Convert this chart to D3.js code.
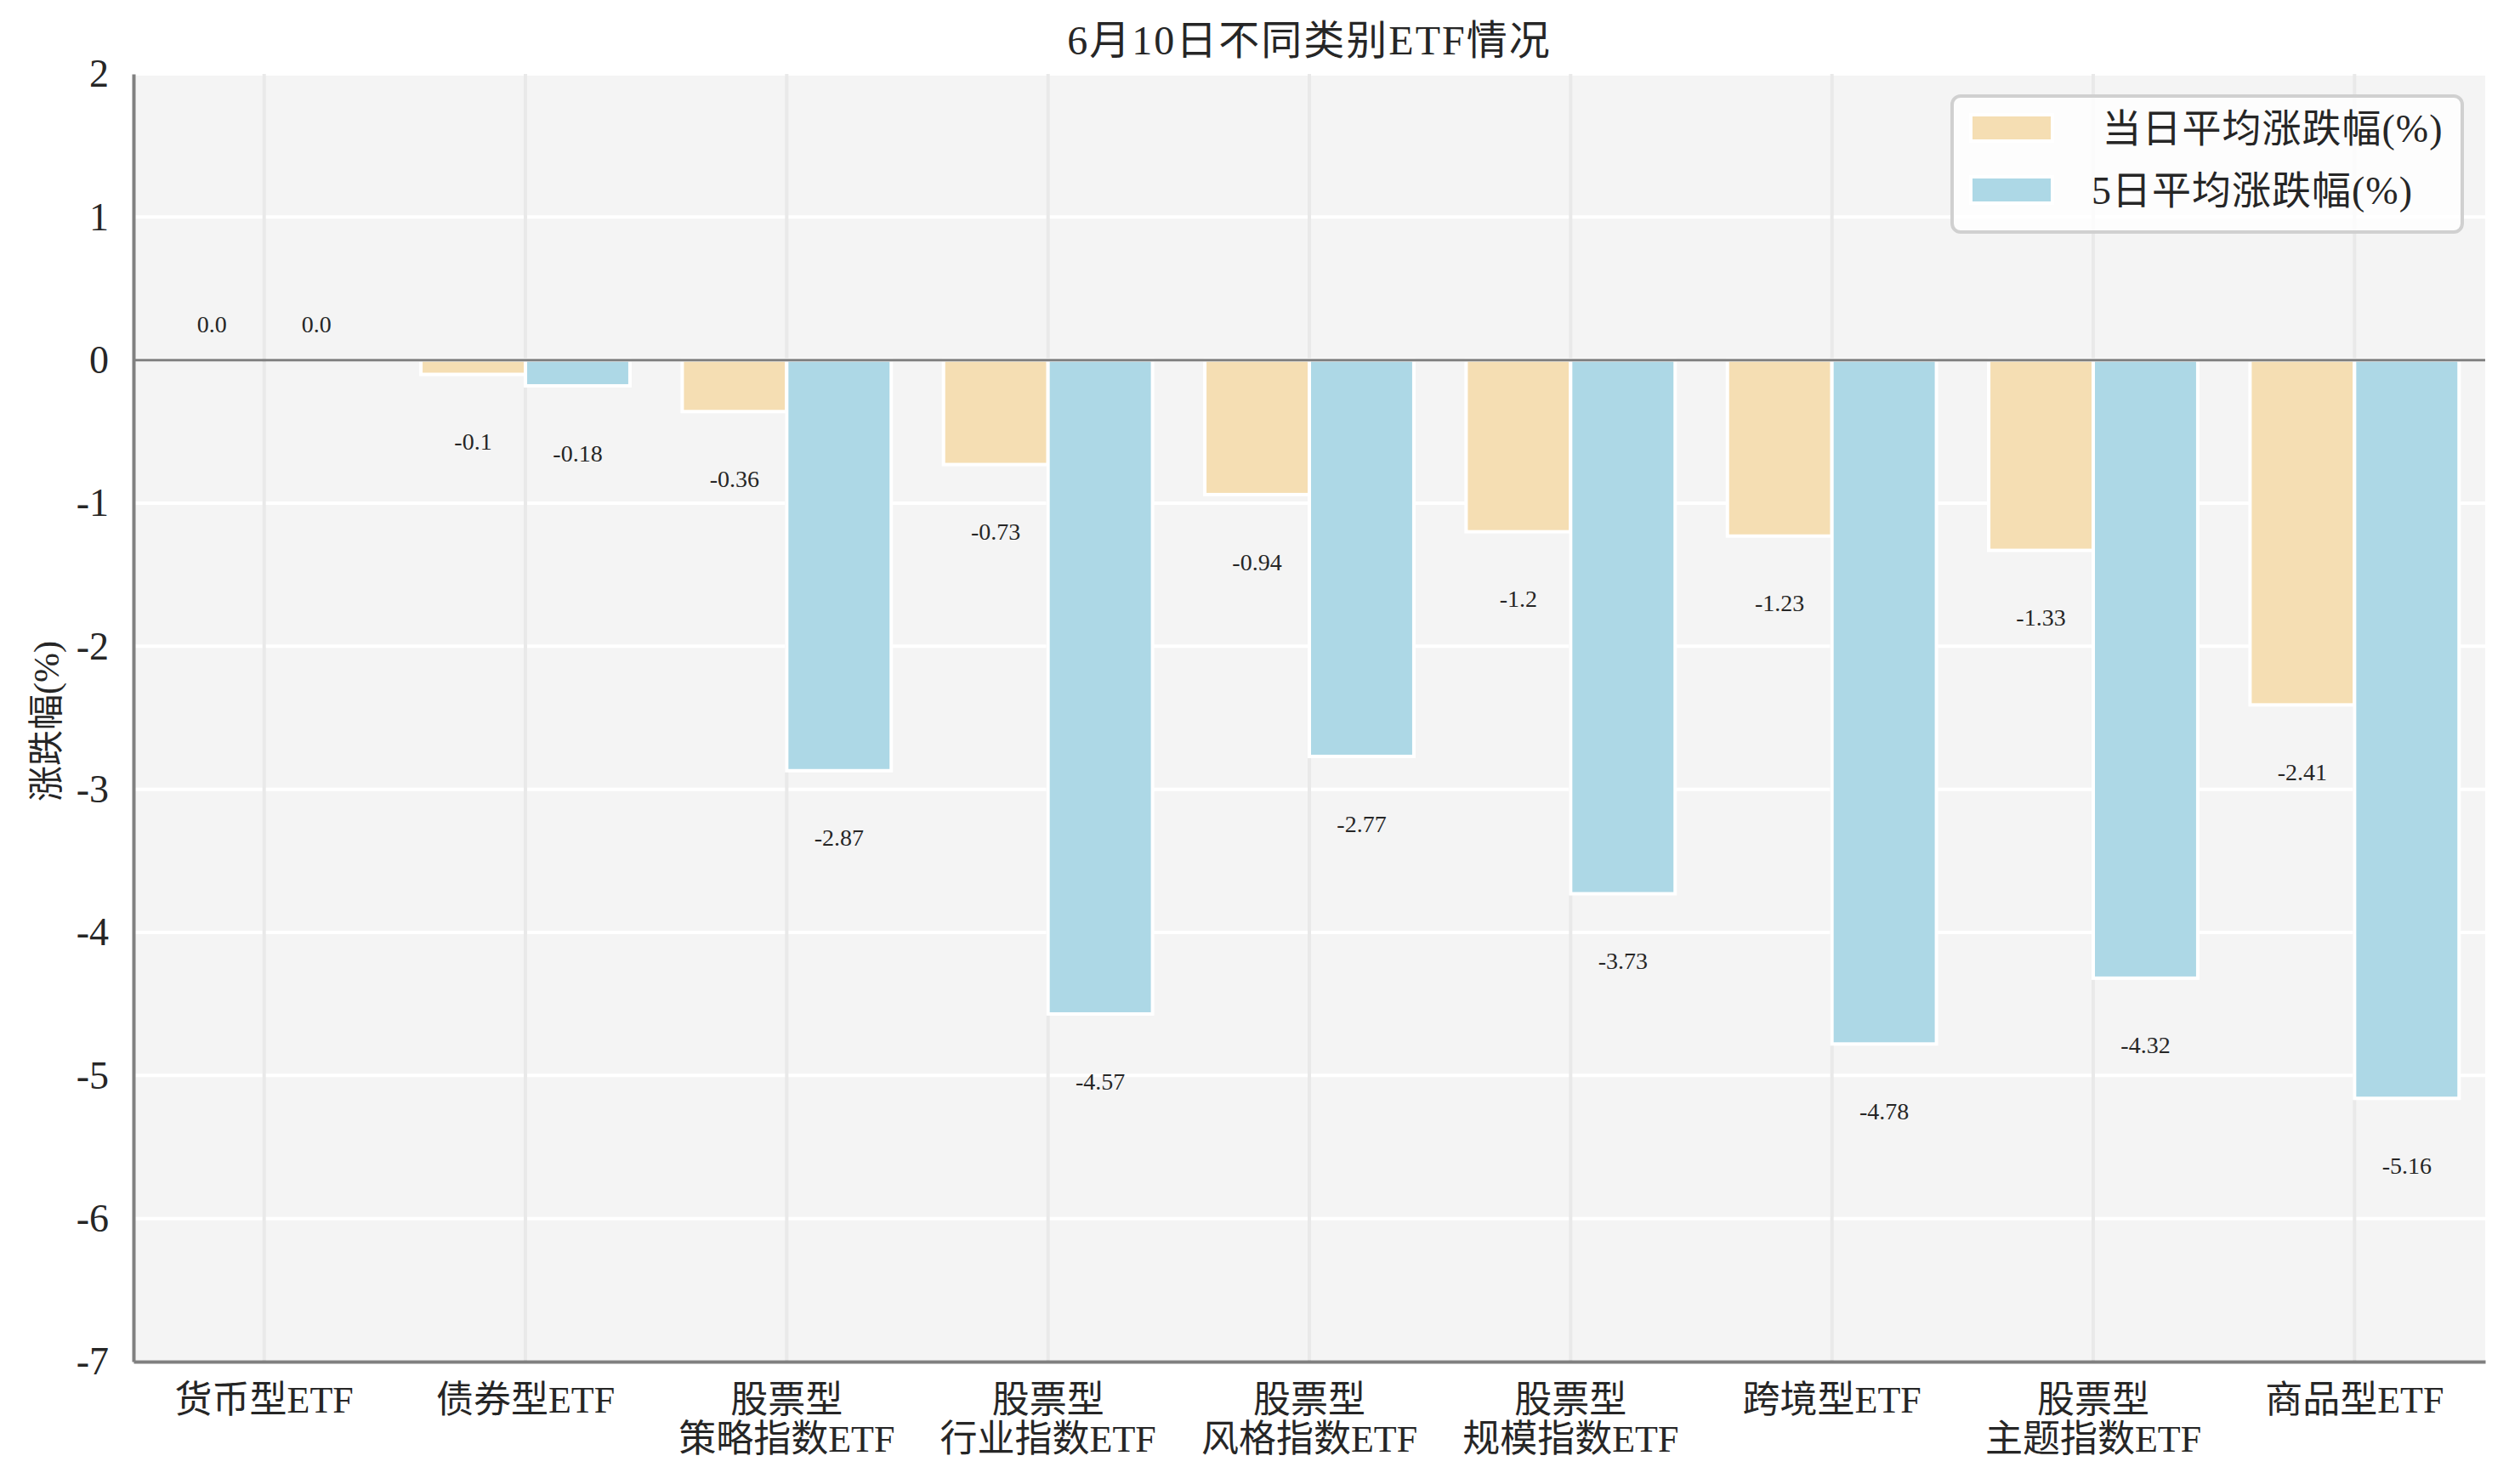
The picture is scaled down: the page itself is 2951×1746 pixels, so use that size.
<!DOCTYPE html>
<html>
<head>
<meta charset="utf-8">
<script src="https://cdn.jsdelivr.net/npm/d3@7"></script>
<style>
  body { margin: 0; background: #fff; }
  text { font-family: "Liberation Serif", "Noto Sans CJK SC", serif; fill: #262626; }
</style>
</head>
<body>
<div id="chart"></div>
<script>
const categories = ["货币型ETF", "债券型ETF", "股票型\n策略指数ETF", "股票型\n行业指数ETF",
    "股票型\n风格指数ETF", "股票型\n规模指数ETF", "跨境型ETF", "股票型\n主题指数ETF", "商品型ETF"];
const dailyChange = [0.0, -0.1, -0.36, -0.73, -0.94, -1.2, -1.23, -1.33, -2.41];
const fiveDayChange = [0.0, -0.18, -2.87, -4.57, -2.77, -3.73, -4.78, -4.32, -5.16];
const seriesNames = [" 当日平均涨跌幅(%)", "5日平均涨跌幅(%)"];
const seriesColors = ["#f5deb3", "#add8e6"];
const yTicks = [2, 1, 0, -1, -2, -3, -4, -5, -6, -7];
const title = "6月10日不同类别ETF情况";
const yLabel = "涨跌幅(%)";

(function() {
    const width = 2951, height = 1746;
    const margin = {top: 87, right: 28, bottom: 144, left: 157};

    const svg = d3.select("#chart").append("svg")
        .attr("width", width)
        .attr("height", height);

    const x = d3.scaleBand()
        .domain(categories)
        .range([margin.left, width - margin.right])
        .paddingInner(0).paddingOuter(0);
    const bw = x.bandwidth();
    // two bars per group, 0.4 of band each, meeting at band center
    const xSub = d3.scaleBand().domain([0, 1]).range([0.1 * bw, 0.9 * bw]);

    const y = d3.scaleLinear()
        .domain([-7, 2])
        .range([height - margin.bottom, margin.top]);

    // plot background
    svg.append("rect")
        .attr("x", margin.left).attr("y", margin.top)
        .attr("width", width - margin.left - margin.right)
        .attr("height", height - margin.top - margin.bottom)
        .attr("fill", "#f4f4f4");

    // grid lines
    svg.append("g")
        .selectAll("line")
        .data(yTicks)
        .join("line")
        .attr("x1", margin.left).attr("x2", width - margin.right)
        .attr("y1", d => y(d)).attr("y2", d => y(d))
        .attr("stroke", "#ffffff").attr("stroke-width", 4);

    svg.append("g")
        .selectAll("line")
        .data(categories)
        .join("line")
        .attr("x1", d => x(d) + bw / 2).attr("x2", d => x(d) + bw / 2)
        .attr("y1", margin.top).attr("y2", height - margin.bottom)
        .attr("stroke", "#e9e9e9").attr("stroke-width", 4);

    // bars
    const rows = categories.map((c, i) => ({cat: c, values: [dailyChange[i], fiveDayChange[i]]}));
    const groups = svg.append("g")
        .selectAll("g")
        .data(rows)
        .join("g")
        .attr("transform", d => `translate(${x(d.cat)},0)`);

    groups.selectAll("rect")
        .data(d => d.values.map((v, k) => ({v, k})))
        .join("rect")
        .attr("x", d => xSub(d.k))
        .attr("width", xSub.bandwidth())
        .attr("y", d => Math.min(y(0), y(d.v)))
        .attr("height", d => Math.abs(y(d.v) - y(0)))
        .attr("fill", d => seriesColors[d.k])
        .attr("stroke", d => d.v === 0 ? "none" : "#ffffff")
        .attr("stroke-width", 4);

    groups.selectAll("text")
        .data(d => d.values.map((v, k) => ({v, k})))
        .join("text")
        .attr("x", d => xSub(d.k) + xSub.bandwidth() / 2)
        .attr("y", d => d.v === 0 ? y(0.25) : y(d.v - 0.47))
        .attr("text-anchor", "middle")
        .attr("dominant-baseline", "central")
        .attr("font-size", 28)
        .text(d => d.v === 0 ? "0.0" : String(d.v));

    // zero line
    svg.append("line")
        .attr("x1", margin.left).attr("x2", width - margin.right)
        .attr("y1", y(0)).attr("y2", y(0))
        .attr("stroke", "#808080").attr("stroke-width", 3);

    // y axis
    svg.append("g")
        .attr("transform", `translate(${margin.left},0)`)
        .call(d3.axisLeft(y).tickValues(yTicks).tickSize(0).tickPadding(29).tickFormat(d3.format("d")))
        .call(g => g.select(".domain").attr("stroke", "#808080").attr("stroke-width", 4))
        .call(g => g.selectAll(".tick text")
            .attr("font-size", 46)
            .attr("fill", "#262626")
            .attr("font-family", "Liberation Serif, Noto Sans CJK SC, serif")
            .text(d => d < 0 ? "-" + Math.abs(d) : d));

    // x axis
    svg.append("g")
        .attr("transform", `translate(0,${height - margin.bottom})`)
        .call(d3.axisBottom(x).tickSize(0).tickFormat(""))
        .call(g => g.select(".domain").attr("stroke", "#808080").attr("stroke-width", 4))
        .call(g => g.selectAll(".tick").each(function(d) {
            const lines = d.split("\n");
            const t = d3.select(this).append("text")
                .attr("text-anchor", "middle")
                .attr("font-size", 44)
                .attr("fill", "#262626")
                .attr("font-family", "Liberation Serif, Noto Sans CJK SC, serif");
            lines.forEach((line, j) => {
                t.append("tspan")
                    .attr("x", 0)
                    .attr("y", 45 + j * 46)
                    .attr("dominant-baseline", "central")
                    .text(line);
            });
        }));

    // title
    svg.append("text")
        .attr("x", (margin.left + width - margin.right) / 2)
        .attr("y", 47)
        .attr("text-anchor", "middle")
        .attr("dominant-baseline", "central")
        .attr("font-size", 48)
        .attr("letter-spacing", 2)
        .text(title);

    // y label
    svg.append("text")
        .attr("transform", `translate(55,${(margin.top + height - margin.bottom) / 2 + 4}) rotate(-90)`)
        .attr("text-anchor", "middle")
        .attr("dominant-baseline", "central")
        .attr("font-size", 42)
        .text(yLabel);

    // legend
    const legend = svg.append("g");
    legend.append("rect")
        .attr("x", 2296).attr("y", 113)
        .attr("width", 600).attr("height", 160)
        .attr("rx", 10)
        .attr("fill", "rgba(255,255,255,0.8)")
        .attr("stroke", "#d0d0d0").attr("stroke-width", 4);

    const items = legend.selectAll("g")
        .data(seriesNames)
        .join("g")
        .attr("transform", (d, i) => `translate(2318,${135 + i * 73})`);
    items.append("rect")
        .attr("width", 96).attr("height", 31)
        .attr("fill", (d, i) => seriesColors[i])
        .attr("stroke", "#ffffff").attr("stroke-width", 4);
    items.append("text")
        .attr("x", 142).attr("y", 16)
        .attr("dominant-baseline", "central")
        .attr("font-size", 46)
        .attr("letter-spacing", 1)
        .style("white-space", "pre")
        .text(d => d);
})();
</script>
</body>
</html>
